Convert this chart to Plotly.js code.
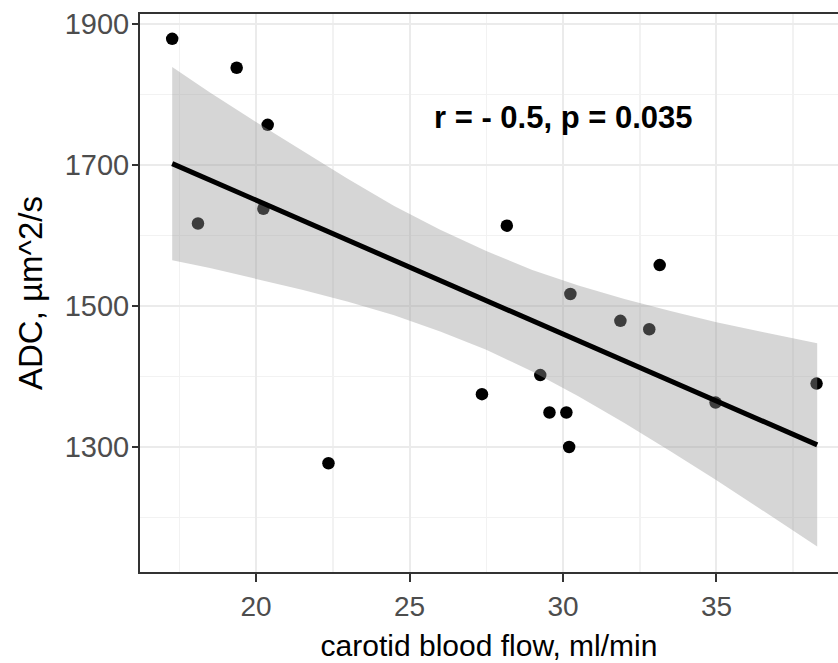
<!DOCTYPE html>
<html>
<head>
<meta charset="utf-8">
<script src="https://cdn.plot.ly/plotly-3.0.1.min.js"></script>
<style>html,body{margin:0;padding:0;background:#fff;}#chart{width:838px;height:663px;}</style>
</head>
<body>
<div id="chart"></div>
<script>
// Scatter points: carotid blood flow (ml/min) vs ADC (µm^2/s)
var flow = [17.27, 18.11, 19.37, 20.38, 20.24, 22.36, 27.36, 29.26, 29.56, 30.11, 30.20, 30.24, 28.17, 31.87, 32.81, 33.15, 34.97, 38.26];
var adc  = [1879, 1617, 1838, 1757, 1638, 1277, 1375, 1402, 1349, 1349, 1300, 1517, 1614, 1479, 1467, 1558, 1363, 1390];

// Fitted regression line endpoints
var fitX = [17.27, 38.28];
var fitY = [1702, 1303];

// Confidence band edges
var bandX      = [17.27, 18.5, 20.0, 21.5, 23.0, 24.5, 26.0, 27.5, 29.0, 30.5, 32.0, 33.5, 35.0, 36.5, 38.28];
var bandUpperY = [1839, 1803, 1761, 1720, 1680, 1642, 1608, 1578, 1551, 1529, 1510, 1493, 1477, 1463, 1447];
var bandLowerY = [1565, 1554, 1539, 1523, 1506, 1487, 1464, 1438, 1407, 1372, 1334, 1294, 1253, 1210, 1159];

var xTicks = [20, 25, 30, 35];
var yTicks = [1300, 1500, 1700, 1900];
var annotationText = "r = - 0.5, p = 0.035";

var polyX = bandX.concat(bandX.slice().reverse());
var polyY = bandUpperY.concat(bandLowerY.slice().reverse());

var FONT = "Liberation Sans, Arial, sans-serif";

var traces = [
  {
    x: flow, y: adc, type: "scatter", mode: "markers",
    marker: {color: "#000000", size: 12.5},
    hoverinfo: "skip", showlegend: false
  },
  {
    x: polyX, y: polyY, type: "scatter", mode: "lines",
    fill: "toself", fillcolor: "rgba(153,153,153,0.4)",
    line: {width: 0, color: "rgba(0,0,0,0)"},
    hoverinfo: "skip", showlegend: false
  },
  {
    x: fitX, y: fitY, type: "scatter", mode: "lines",
    line: {color: "#000000", width: 5},
    hoverinfo: "skip", showlegend: false
  }
];

// y-axis tick marks drawn as short outside strokes so the labels can sit closer
var yTickShapes = yTicks.map(function (v) {
  return {type: "line", xref: "paper", yref: "y", x0: -8 / 698, x1: 0, y0: v, y1: v,
          line: {color: "#333333", width: 2}, layer: "above"};
});

var layout = {
  width: 838, height: 663,
  margin: {l: 140, r: 0, t: 14, b: 91, pad: 0},
  paper_bgcolor: "#ffffff", plot_bgcolor: "#ffffff",
  showlegend: false,
  font: {family: FONT, color: "#000000"},
  xaxis: {
    range: [16.221, 38.958],
    tickvals: xTicks, ticktext: xTicks.map(String),
    showgrid: true, gridcolor: "#EBEBEB", gridwidth: 2,
    minor: {dtick: 2.5, tick0: 0, showgrid: true, gridcolor: "#F2F2F2", gridwidth: 1.5, ticks: ""},
    zeroline: false,
    showline: true, linecolor: "#333333", linewidth: 2, mirror: true,
    ticks: "outside", ticklen: 8, tickwidth: 2, tickcolor: "#333333",
    tickfont: {family: FONT, size: 28, color: "#4D4D4D"},
    title: {text: "carotid blood flow, ml/min", font: {family: FONT, size: 30, color: "#000000"}, standoff: 14},
    automargin: false
  },
  yaxis: {
    range: [1122.7, 1914.2],
    tickvals: yTicks, ticktext: yTicks.map(String),
    showgrid: true, gridcolor: "#EBEBEB", gridwidth: 2,
    minor: {dtick: 100, tick0: 0, showgrid: true, gridcolor: "#F2F2F2", gridwidth: 1.5, ticks: ""},
    zeroline: false,
    showline: true, linecolor: "#333333", linewidth: 2, mirror: false,
    ticks: "",
    ticklabelstandoff: 3,
    tickfont: {family: FONT, size: 29, color: "#4D4D4D"},
    title: {text: "ADC, µm^2/s", font: {family: FONT, size: 33, color: "#000000"}, standoff: 12},
    automargin: false
  },
  shapes: yTickShapes,
  annotations: [{
    x: 30.0, y: 1767, xref: "x", yref: "y",
    text: "<b>" + annotationText + "</b>",
    showarrow: false,
    font: {family: FONT, size: 31, color: "#000000"},
    xanchor: "center", yanchor: "middle"
  }]
};

Plotly.newPlot("chart", traces, layout, {displayModeBar: false, staticPlot: true});
</script>
</body>
</html>
